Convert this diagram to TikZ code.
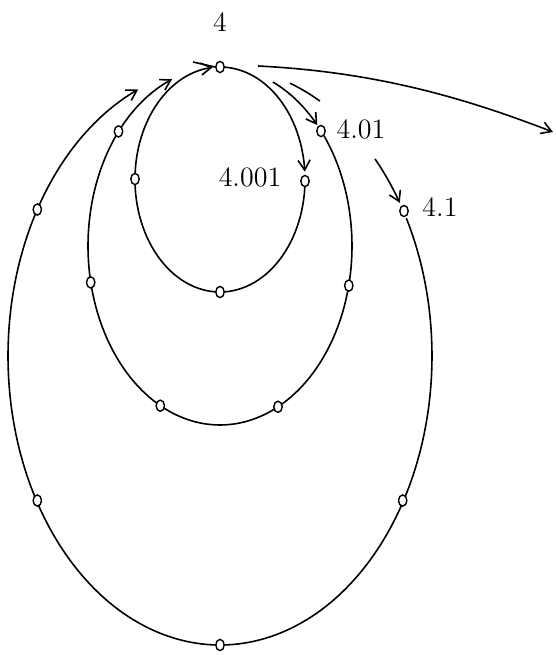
\documentclass[tikz,border=0pt]{standalone}
\usetikzlibrary{arrows.meta,shapes.geometric}
\begin{document}
\begin{tikzpicture}[x=0.5pt,y=-0.5pt,
  curve/.style={line width=0.8pt},
  arr/.style={line width=0.8pt,-{Straight Barb[length=5pt,width=6pt]}},
  dot/.style={ellipse,draw,line width=0.7pt,fill=white,inner sep=0pt,minimum width=4.2pt,minimum height=5.6pt},
  lab/.style={font=\fontsize{14}{16}\selectfont,inner sep=0pt}]
\useasboundingbox (0,0) rectangle (556,655);
% inner orbit (4.001)
\draw[arr] plot[domain=-90:-4,samples=60] ({220+85*cos(\x)},{179.5+112.5*sin(\x)});
\draw[arr] plot[domain=2:265,samples=150] ({220+85*cos(\x)},{179.5+112.5*sin(\x)});
% middle orbit (4.01)
\draw[arr] plot[domain=-66.4:-42.5,samples=30] ({220+132*cos(\x)},{246+179*sin(\x)});
\draw[arr] plot[domain=-38:248.7,samples=160] ({220+132*cos(\x)},{246+179*sin(\x)});
% outer orbit (4.1)
\draw[curve] plot[domain=-70.7:-61.9,samples=15] ({220+212*cos(\x)},{356+289*sin(\x)});
\draw[arr] plot[domain=-43:-32,samples=20] ({220+212*cos(\x)},{356+289*sin(\x)});
\draw[arr] plot[domain=-28.5:247.3,samples=200] ({220+212*cos(\x)},{356+289*sin(\x)});
% dots
\node[dot] (top) at (220,67) {};
\node[dot] (i1) at (305,181) {};
\node[dot] (i2) at (220,292) {};
\node[dot] (i3) at (135,179) {};
\node[dot] (m1) at (321,131) {};
\node[dot] (m2) at (348.8,285.6) {};
\node[dot] (m3) at (278,406.8) {};
\node[dot] (m4) at (160.3,405.7) {};
\node[dot] (m5) at (90.7,282.4) {};
\node[dot] (m6) at (118.5,131.4) {};
\node[dot] (o1) at (404,211) {};
\node[dot] (o2) at (402.7,500.5) {};
\node[dot] (o3) at (220,645) {};
\node[dot] (o4) at (37.3,500.5) {};
\node[dot] (o5) at (37.3,209.5) {};
% labels
\node[lab] (l4) at (220,22) {4};
\node[lab] (l401) at (361,129) {4.01};
\node[lab] (l4001) at (250,177) {4.001};
\node[lab] (l41) at (440,207) {4.1};
% short stroke left of the top point
\coordinate (ah1) at (193,62);
\draw[curve] (ah1) -- (top.west);
% escaping orbit
\coordinate (e0) at (258,66);
\coordinate (e1) at (553,132);
\draw[arr] (e0) .. controls (380,72) and (470,100) .. (e1);
\end{tikzpicture}
\end{document}
